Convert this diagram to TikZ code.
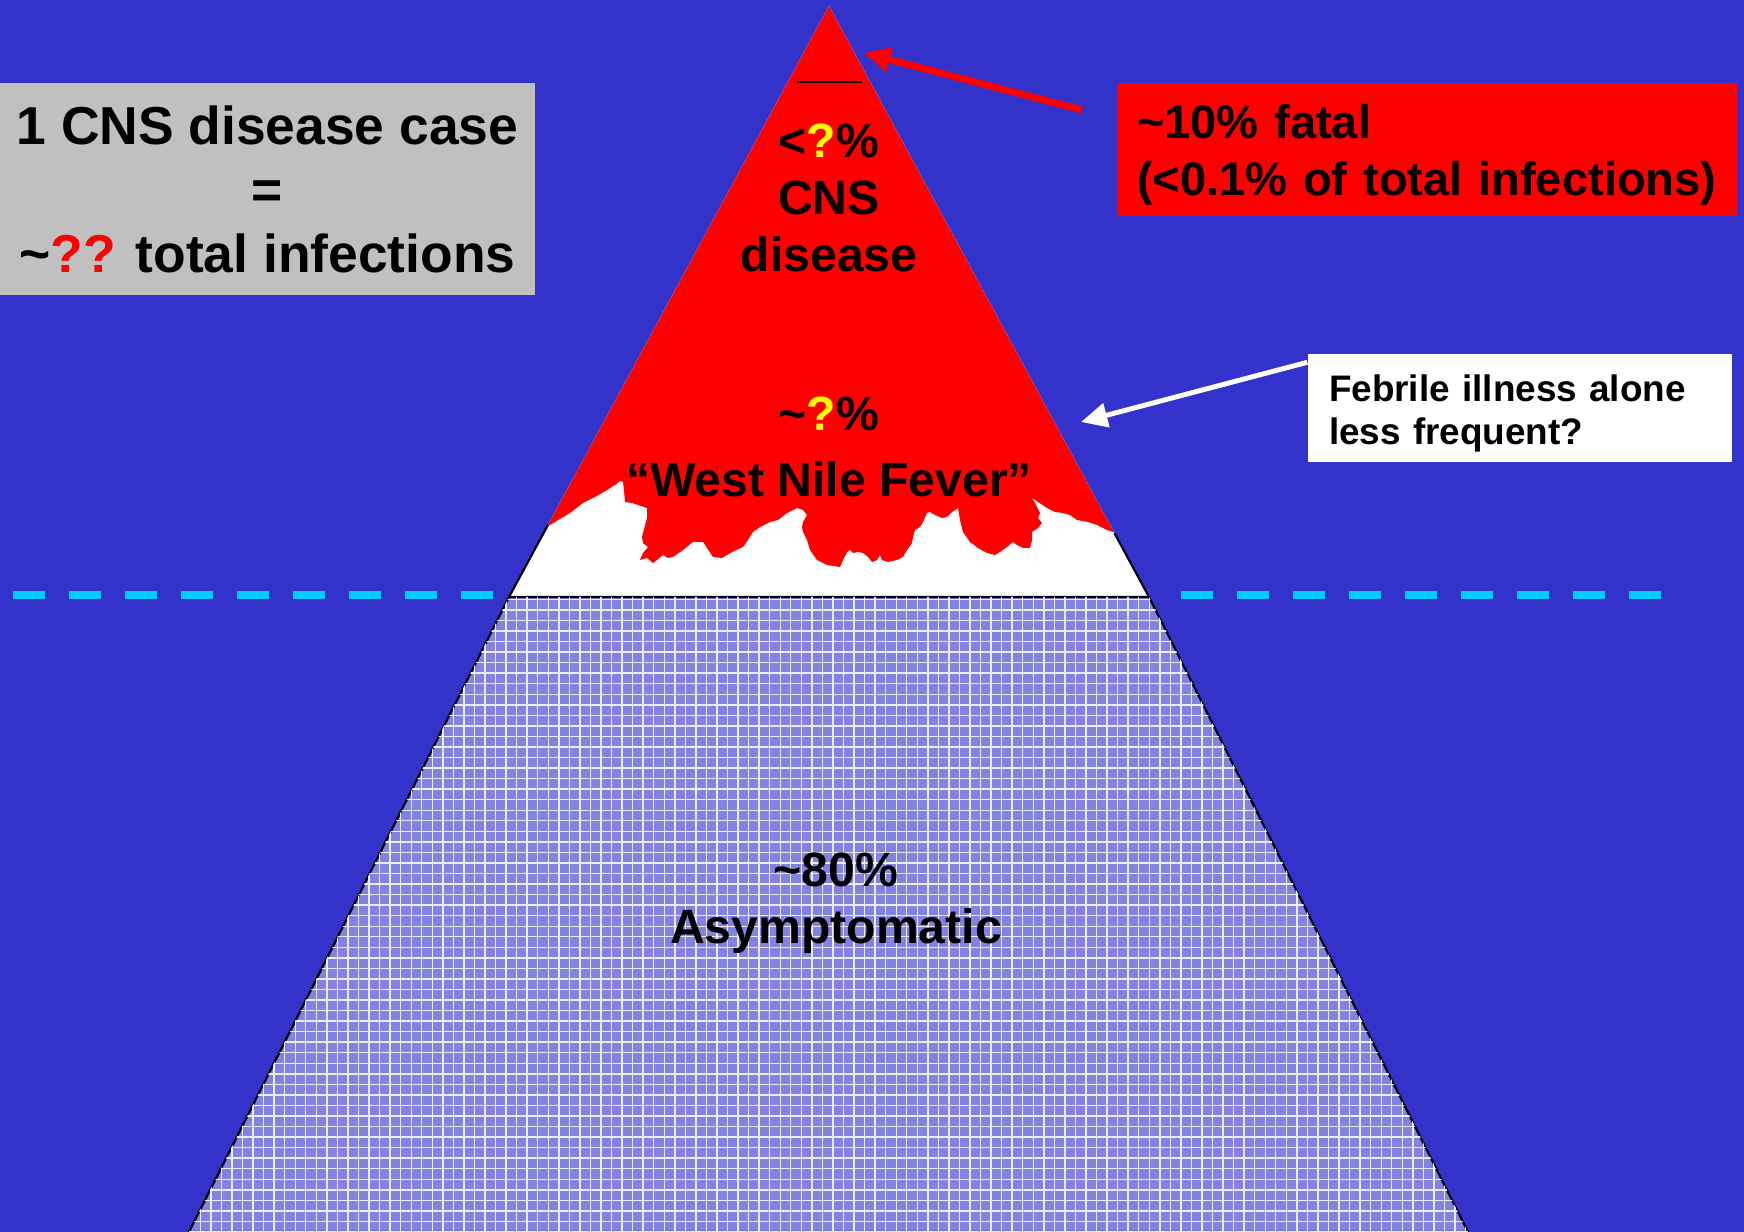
\documentclass[tikz,border=0pt]{standalone}
\usepackage{fontspec}
\setmainfont{Liberation Sans}
\usepackage{tikz}
\usetikzlibrary{arrows.meta, patterns}
\definecolor{bgblue}{RGB}{51,51,204}
\definecolor{waterline}{RGB}{0,204,255}
\definecolor{boxgray}{RGB}{192,192,192}
\definecolor{iceblue}{RGB}{130,130,226}
\definecolor{qyellow}{RGB}{255,255,0}
\tikzset{
  icetext/.style={align=center, font=\fontsize{13.7}{16.2}\selectfont\bfseries},
  graybox/.style={fill=boxgray, inner sep=0pt, minimum width=53.5mm, minimum height=21.2mm,
    align=center, font=\fontsize{15.2}{18.2}\selectfont\bfseries},
  fatalbox/.style={fill=red, inner xsep=2mm, inner ysep=0pt, text width=58mm, minimum height=13.3mm,
    align=left, font=\fontsize{13.4}{16.2}\selectfont\bfseries},
  notebox/.style={fill=white, inner xsep=2.1mm, inner ysep=0pt, text width=38.2mm, minimum height=10.8mm,
    align=left, font=\fontsize{10.5}{12}\selectfont\bfseries},
  waterdash/.style={waterline, line width=0.8mm, dash pattern=on 3.2mm off 2.4mm}
}
\begin{document}
\begin{tikzpicture}[x=0.1mm, y=-0.1mm, >={Triangle[length=7.5pt, width=6.8pt]}]
	% Hintergrund
	\useasboundingbox (0,0) rectangle (1744,1232);
	\fill[bgblue] (0,0) rectangle (1744,1232);
	% Eisberg: Spitze und Sockel
	\coordinate (apex) at (829,6);
	\coordinate (bl) at (509,597);
	\coordinate (br) at (1149,597);
	\path (apex) -- (bl) coordinate[pos=0.878] (jl);
	\path (apex) -- (br) coordinate[pos=0.892] (jr);
	\fill[white] (apex) -- (bl) -- (br) -- cycle;
	\begin{scope}
		\clip (apex) -- (bl) -- (br) -- cycle;
		\fill[red] (500,0) -- (500,525) -- (548,525) -- (550,525) -- (570,513) -- (583,503) -- (595,497)
			-- (607,490) -- (615,485) -- (620,481) -- (623,482) -- (624,490) -- (625,502) -- (632,503)
			-- (647,508) -- (647,518) -- (643,533) -- (642,537) -- (643,543) -- (648,547) -- (643,553)
			-- (640,560) -- (647,558) -- (653,563) -- (657,560) -- (663,555) -- (668,558) -- (673,557)
			-- (683,550) -- (693,542) -- (703,542) -- (707,548) -- (713,557) -- (722,558) -- (732,552)
			-- (743,547) -- (748,540) -- (753,532) -- (760,527) -- (770,522) -- (778,520) -- (787,513)
			-- (797,508) -- (803,510) -- (807,515) -- (803,522) -- (802,527) -- (803,532) -- (807,540)
			-- (810,550) -- (817,560) -- (827,565) -- (840,567) -- (843,560) -- (847,552) -- (850,550)
			-- (853,553) -- (858,552) -- (863,553) -- (868,557) -- (872,562) -- (877,560) -- (880,555)
			-- (882,560) -- (888,562) -- (897,560) -- (903,557) -- (907,550) -- (912,543) -- (913,537)
			-- (915,530) -- (920,527) -- (923,522) -- (927,513) -- (930,512) -- (935,515) -- (942,518)
			-- (947,517) -- (952,512) -- (958,508) -- (960,520) -- (963,532) -- (970,542) -- (978,548)
			-- (987,553) -- (995,555) -- (1000,552) -- (1007,547) -- (1013,542) -- (1017,545) -- (1023,548)
			-- (1030,548) -- (1032,540) -- (1032,532) -- (1038,528) -- (1042,523) -- (1038,518) -- (1040,513)
			-- (1035,503) -- (1032,498) -- (1038,502) -- (1047,508) -- (1055,512) -- (1063,513) -- (1070,515)
			-- (1077,520) -- (1088,522) -- (1097,525) -- (1107,530) -- (1113,532) -- (1160,532) -- (1160,0) -- cycle;
	\end{scope}
	\draw[line width=0.6pt] (jl) -- (bl) (jr) -- (br);
	\draw[line width=0.4pt] (797,82) -- (862,82);
	% Sockel unter Wasser
	\draw[line width=0.6pt, fill=iceblue, postaction={pattern=grid, pattern color=white!85!iceblue}]
		(bl) -- (br) -- (1468,1232) -- (189,1232) -- cycle;
	% Wasserlinie
	\draw[waterdash] (13,595) -- (493,595);
	\draw[waterdash] (1181,595) -- (1661,595);
	% Beschriftung
	\node[icetext] (cns) at (829,198) {<\textcolor{qyellow}{?}\%\\CNS\\disease};
	\node[icetext] (wnf) at (829,447) {\textasciitilde\textcolor{qyellow}{?}\%\\[2.6pt]“West Nile Fever”};
	\node[icetext] (asym) at (836,903) {\textasciitilde80\%\\Asymptomatic};
	\node[graybox] (ratio) at (267.5,189) {1 CNS disease case\\=\\\textasciitilde\textcolor{red}{??} total infections};
	\node[fatalbox] (fatal) at (1427,149.5) {\rule{0pt}{13pt}\textasciitilde10\% fatal\\(<0.1\% of total infections)};
	\node[notebox] (febrile) at (1520,408) {\rule{0pt}{10.7pt}Febrile illness alone\\less frequent?};
	% Pfeile
	\coordinate (fataltail) at (1082,110);
	\coordinate (cnstip) at (864,53);
	\coordinate (wnftip) at (1081,422);
	\draw[->, red, line width=2pt] (fataltail) -- (cnstip);
	\draw[->, white, line width=1.4pt] ([yshift=-0.9mm]febrile.north west) -- (wnftip);
\end{tikzpicture}
\end{document}
